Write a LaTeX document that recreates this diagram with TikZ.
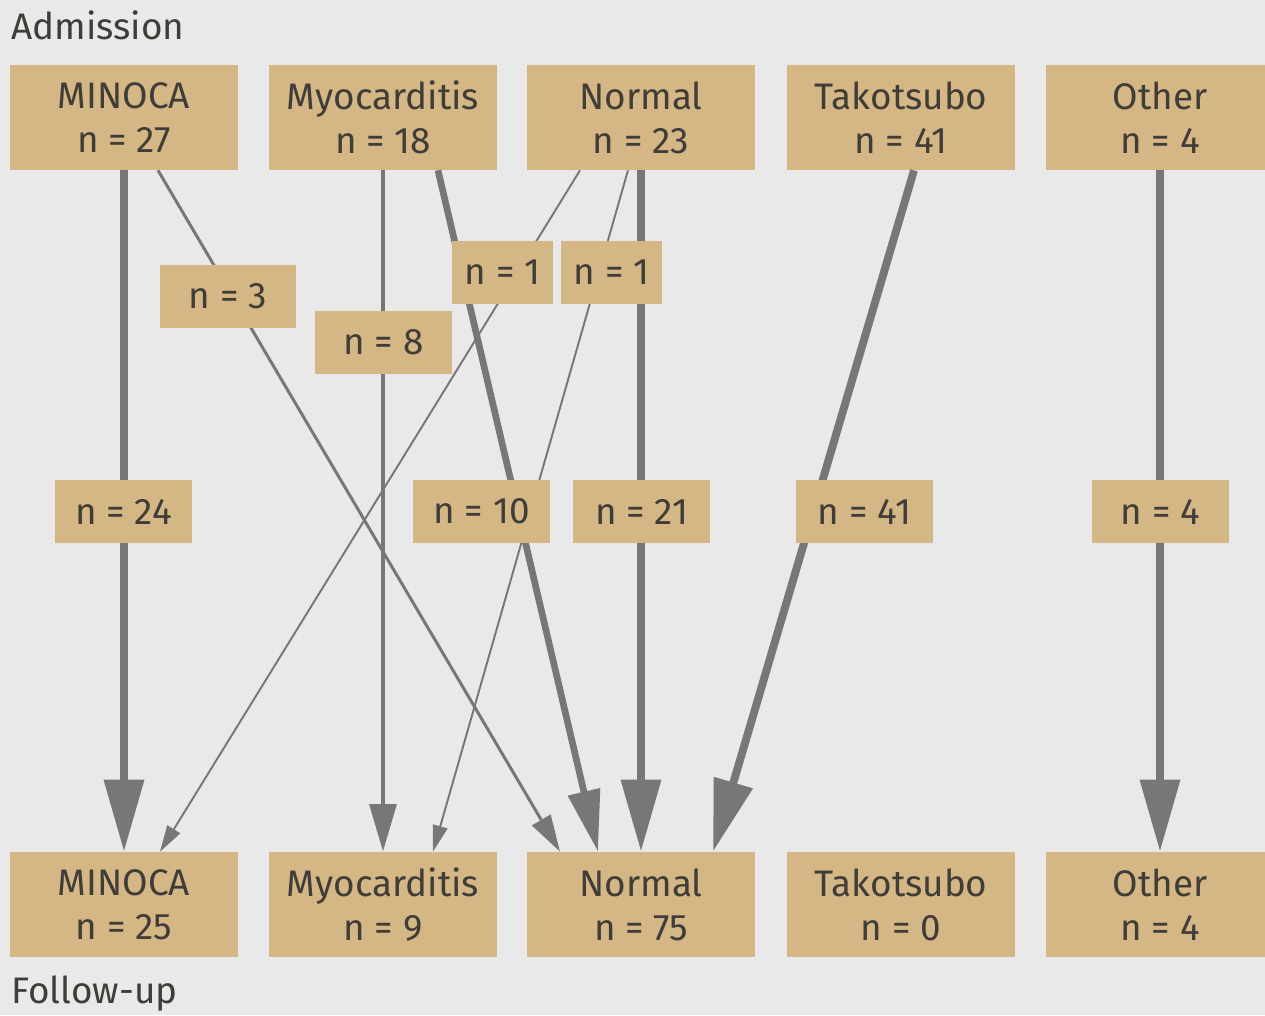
\documentclass[tikz,border=0pt]{standalone}
\usepackage{fontspec}
\setmainfont{Fira Sans}
\usetikzlibrary{arrows.meta,calc,positioning}

\definecolor{bggray}{HTML}{E9E9E9}
\definecolor{boxtan}{HTML}{D4B785}
\definecolor{textgray}{HTML}{403C38}
\definecolor{flowgray}{HTML}{777777}

\tikzset{
  box/.style={fill=boxtan,text=textgray,minimum width=4.58cm,minimum height=2.1cm,
    inner sep=0pt,align=center,font=\fontsize{21}{25}\selectfont},
  count/.style={fill=boxtan,text=textgray,minimum width=2.74cm,minimum height=1.26cm,
    inner sep=0pt,font=\fontsize{21}{25}\selectfont},
  tag/.style={text=textgray,inner sep=0pt,font=\fontsize{21}{25}\selectfont},
  flowbig/.style={draw=flowgray,line width=4.5pt,-{Triangle[length=41pt,width=22pt]}},
  flowten/.style={draw=flowgray,line width=3.8pt,-{Triangle[length=35pt,width=18pt]}},
  floweight/.style={draw=flowgray,line width=2.8pt,-{Triangle[length=27pt,width=15pt]}},
  flowthree/.style={draw=flowgray,line width=1.7pt,-{Triangle[length=21pt,width=12pt]}},
  flowone/.style={draw=flowgray,line width=1.1pt,-{Triangle[length=15pt,width=8.5pt]}}
}

\begin{document}
\begin{tikzpicture}[x=0.02cm,y=-0.02cm]
  \fill[bggray] (0,0) rectangle (1265,1015);
  \useasboundingbox (0,0) rectangle (1265,1015);

  % admission row
  \node[tag,anchor=base west] (adm) at (11,39) {Admission};
  \node[box] (a_min) at (124,117.5) {MINOCA\\n = 27};
  \node[box] (a_myo) at (383,117.5) {Myocarditis\\n = 18};
  \node[box] (a_nor) at (641,117.5) {Normal\\n = 23};
  \node[box] (a_tak) at (901,117.5) {Takotsubo\\n = 41};
  \node[box] (a_oth) at (1160,117.5) {Other\\n = 4};

  % follow-up row
  \node[box] (f_min) at (124,904.5) {MINOCA\\n = 25};
  \node[box] (f_myo) at (383,904.5) {Myocarditis\\n = 9};
  \node[box] (f_nor) at (641,904.5) {Normal\\n = 75};
  \node[box] (f_tak) at (901,904.5) {Takotsubo\\n = 0};
  \node[box] (f_oth) at (1160,904.5) {Other\\n = 4};
  \node[tag,anchor=base west] (fup) at (11,1003) {Follow-up};

  % transitions
  \draw[flowbig] (a_min.south) -- (f_min.north);
  \draw[flowthree] ($(a_min.south)+(34,0)$) -- ($(f_nor.north)+(-81,0)$);
  \draw[floweight] (a_myo.south) -- (f_myo.north);
  \draw[flowten] ($(a_myo.south)+(55,0)$) -- ($(f_nor.north)+(-43,0)$);
  \draw[flowone] ($(a_nor.south)+(-61,0)$) -- ($(f_min.north)+(36,0)$);
  \draw[flowone] ($(a_nor.south)+(-13,0)$) -- ($(f_myo.north)+(50,0)$);
  \draw[flowbig] (a_nor.south) -- (f_nor.north);
  \draw[flowbig] ($(a_tak.south)+(13,0)$) -- ($(f_nor.north)+(72,0)$);
  \draw[flowbig] (a_oth.south) -- (f_oth.north);

  % counts
  \node[count] (c_mm) at (123.5,511.5) {n = 24};
  \node[count] (c_mn) at (228,296.5) {n = 3};
  \node[count] (c_yy) at (383.5,342.5) {n = 8};
  \node[count] (c_yn) at (481.5,511.5) {n = 10};
  \node[count,minimum width=2.02cm] (c_nm) at (502.5,272.5) {n = 1};
  \node[count,minimum width=2.02cm] (c_ny) at (611.5,272.5) {n = 1};
  \node[count] (c_nn) at (641.5,511.5) {n = 21};
  \node[count] (c_tn) at (864.5,511.5) {n = 41};
  \node[count] (c_oo) at (1160.5,511.5) {n = 4};
\end{tikzpicture}
\end{document}
